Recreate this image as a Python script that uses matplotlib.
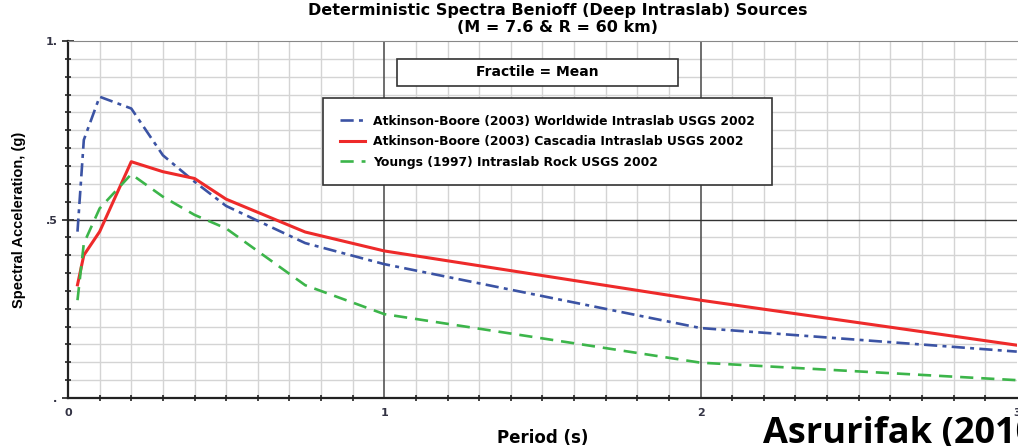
import matplotlib.pyplot as plt
import matplotlib.ticker as ticker
from matplotlib.patches import Rectangle

# Periode (s) dan percepatan spektral (g) untuk tiap fungsi atenuasi
period = [0.03, 0.05, 0.1, 0.2, 0.3, 0.4, 0.5, 0.75, 1.0, 2.0, 3.0]
ab_worldwide = [0.466, 0.723, 0.844, 0.811, 0.680, 0.606, 0.538, 0.434, 0.375, 0.196, 0.130]
ab_cascadia = [0.317, 0.400, 0.466, 0.662, 0.634, 0.615, 0.557, 0.465, 0.412, 0.274, 0.148]
youngs = [0.274, 0.433, 0.531, 0.627, 0.564, 0.513, 0.475, 0.316, 0.235, 0.099, 0.050]

labels = [
    'Atkinson-Boore (2003) Worldwide Intraslab USGS 2002',
    'Atkinson-Boore (2003) Cascadia Intraslab USGS 2002',
    'Youngs (1997) Intraslab Rock USGS 2002',
]
x_ticks = [0, 1, 2, 3]
x_ticklabels = ['0', '1', '2', '3']
y_ticks = [0, 0.5, 1.0]
y_ticklabels = ['.', '.5', '1.']

plt.rcParams['font.family'] = ['DejaVu Sans']

fig = plt.figure(figsize=(10.18, 4.46), dpi=100)
ax = fig.add_axes([0.0668, 0.1076, 0.932, 0.8004])

ax.plot(period, ab_worldwide, color='#3B53A4', linestyle=(0, (5, 2, 1.5, 2)), linewidth=1.9, label=labels[0])
ax.plot(period, ab_cascadia, color='#EE2A2A', linestyle='-', linewidth=2.2, label=labels[1])
ax.plot(period, youngs, color='#3CB54A', linestyle=(0, (5, 3)), linewidth=1.9, label=labels[2])

ax.set_xlim(0, 3)
ax.set_ylim(0, 1)

# grid: garis tipis tiap 0.1 s / 0.05 g, garis tebal di 1, 2 s dan 0.5 g
ax.xaxis.set_minor_locator(ticker.MultipleLocator(0.1))
ax.yaxis.set_minor_locator(ticker.MultipleLocator(0.05))
ax.grid(which='minor', color='#D4D4D4', linewidth=1.0)
ax.set_axisbelow(True)
for xv in [1, 2]:
    ax.axvline(xv, color='#555555', linewidth=1.2, zorder=0.8)
ax.axhline(0.5, color='#333333', linewidth=1.0, zorder=0.8)

ax.set_xticks(x_ticks)
ax.set_xticklabels(x_ticklabels, fontsize=8, fontweight='bold', color='#333344')
ax.set_yticks(y_ticks)
ax.set_yticklabels(y_ticklabels, fontsize=8, fontweight='bold', color='#333344')
ax.tick_params(which='both', direction='inout', length=5, width=1.2, color='#222222')
ax.tick_params(axis='x', which='major', length=0, pad=7)
ax.tick_params(axis='y', which='major', length=8)

for side in ['left', 'bottom']:
    ax.spines[side].set_linewidth(1.6)
    ax.spines[side].set_color('#222222')
ax.spines['top'].set_color('#888888')
ax.spines['right'].set_visible(False)

fig.text(0.548, 0.977, 'Deterministic Spectra Benioff (Deep Intraslab) Sources',
         ha='center', va='center', fontsize=11.5, fontweight='bold')
fig.text(0.548, 0.938, '(M = 7.6 & R = 60 km)',
         ha='center', va='center', fontsize=11.5, fontweight='bold')

ax.set_xlabel('Period (s)', fontsize=12, fontweight='bold', labelpad=8)
ax.set_ylabel('Spectral Acceleration, (g)', fontsize=10.5, fontweight='bold',
              family=['Liberation Sans'], labelpad=14)

# kotak keterangan fraktil
ax.add_patch(Rectangle((0.3467, 0.874), 0.2961, 0.0756, transform=ax.transAxes,
                       facecolor='white', edgecolor='#333333', linewidth=1.2, zorder=4))
ax.text(0.4947, 0.912, 'Fractile = Mean', transform=ax.transAxes, ha='center', va='center',
        fontsize=10, fontweight='bold', zorder=5)

leg = ax.legend(loc='upper left', bbox_to_anchor=(0.269, 0.8403), frameon=True, fancybox=False,
                prop={'weight': 'bold', 'size': 8.9}, handlelength=2.0, handletextpad=0.7,
                borderpad=1.35, labelspacing=0.6, framealpha=1, borderaxespad=0)
leg.get_frame().set_edgecolor('#333333')
leg.get_frame().set_linewidth(1.2)

fig.text(0.7495, 0.0067, 'Asrurifak (2010)', fontsize=26, fontweight='bold', family='Open Sans',
         ha='left', va='baseline')

fig.savefig('out.png', dpi=100)
